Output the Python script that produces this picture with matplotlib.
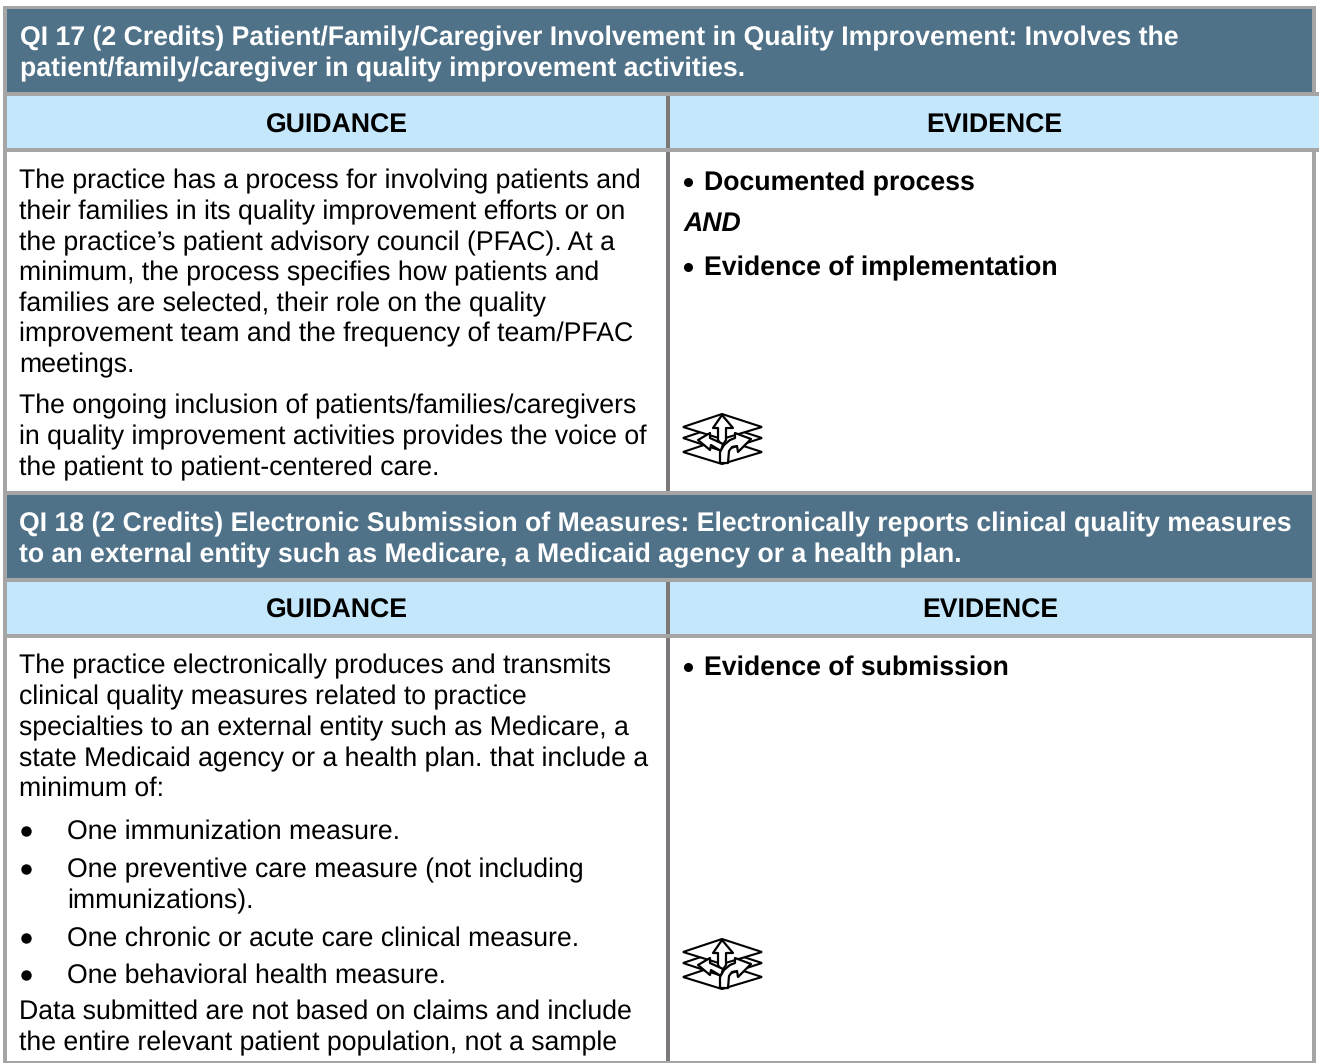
import matplotlib
matplotlib.use("Agg")
import matplotlib.pyplot as plt
from matplotlib.patches import Polygon, Rectangle

plt.rcParams['font.family'] = ['Liberation Sans', 'DejaVu Sans']
plt.rcParams['text.hinting'] = 'none'

# Table text
header_17 = ["QI 17 (2 Credits) Patient/Family/Caregiver Involvement in Quality Improvement: Involves the",
             "patient/family/caregiver in quality improvement activities."]
header_18 = ["QI 18 (2 Credits) Electronic Submission of Measures: Electronically reports clinical quality measures",
             "to an external entity such as Medicare, a Medicaid agency or a health plan."]
guidance_17 = ["The practice has a process for involving patients and",
               "their families in its quality improvement efforts or on",
               "the practice\u2019s patient advisory council (PFAC). At a",
               "minimum, the process specifies how patients and",
               "families are selected, their role on the quality",
               "improvement team and the frequency of team/PFAC",
               "meetings.",
               "The ongoing inclusion of patients/families/caregivers",
               "in quality improvement activities provides the voice of",
               "the patient to patient-centered care."]
guidance_17_y = [188, 219, 250, 280, 311, 341, 372, 413, 444, 475]
guidance_18 = ["The practice electronically produces and transmits",
               "clinical quality measures related to practice",
               "specialties to an external entity such as Medicare, a",
               "state Medicaid agency or a health plan. that include a",
               "minimum of:",
               "Data submitted are not based on claims and include",
               "the entire relevant patient population, not a sample"]
guidance_18_y = [673, 704, 735, 766, 796, 1019, 1050]
bullets_18 = ["One immunization measure.",
              "One preventive care measure (not including",
              "immunizations).",
              "One chronic or acute care clinical measure.",
              "One behavioral health measure."]
bullets_18_y = [839, 877, 908, 946, 983]
bullets_18_dot = [True, True, False, True, True]
evidence_17 = ["Documented process", "Evidence of implementation"]
evidence_17_y = [190, 275]
evidence_18 = ["Evidence of submission"]
evidence_18_y = [675]

DARK = "#4f7289"
LIGHT = "#c4e7fb"
GRAY = "#a5a5a5"
DIV = "#7b7877"
FS = 19.2


def rect(ax, x0, y0, x1, y1, color, z=1):
    ax.add_patch(Rectangle((x0, y0), x1 - x0, y1 - y0, facecolor=color, edgecolor="none", zorder=z))


def icon(ax, dy):
    # three stacked sheets with arrows going up through them
    for sheet in ([(683, 452), (722, 439), (762, 452), (722, 464)],
                  [(683, 438), (722, 425), (762, 438), (722, 451)],
                  [(683, 427), (722, 414), (762, 427), (722, 439)]):
        ax.add_patch(Polygon([(x, y + dy) for x, y in sheet], closed=True, facecolor="white",
                             edgecolor="black", lw=1.5, zorder=3))
    arrows = ([(718, 440), (718, 428), (713, 428), (722, 415), (733, 428), (726, 428), (726, 440), (722, 446)],
              [(721, 451), (711, 445), (710, 450), (698, 440), (710, 433), (710, 438), (723, 444)],
              [(720, 463), (720, 452), (724, 445), (730, 440), (735, 438), (735, 433), (751, 439), (738, 452),
               (737, 446), (732, 447), (729, 451), (728, 463)])
    for arrow in arrows:
        ax.add_patch(Polygon([(x, y + dy) for x, y in arrow], closed=True, facecolor="white",
                             edgecolor="black", lw=1.6, zorder=4, joinstyle="round"))


fig = plt.figure(figsize=(13.19, 10.63), dpi=100)
ax = fig.add_axes([0, 0, 1, 1])
ax.set_xlim(0, 1319)
ax.set_ylim(1063, 0)
ax.axis("off")

# Band fills and rules
rect(ax, 3, 6, 1316, 9, GRAY)
rect(ax, 7, 9, 1312, 92, DARK)
rect(ax, 3, 92, 1319, 96, GRAY)
rect(ax, 7, 96, 1319, 148, LIGHT)
rect(ax, 3, 148, 1319, 152, GRAY)
rect(ax, 3, 491, 1316, 495, GRAY)
rect(ax, 7, 495, 1312, 578, DARK)
rect(ax, 3, 578, 1316, 582, GRAY)
rect(ax, 7, 582, 1312, 634, LIGHT)
rect(ax, 3, 634, 1316, 638, GRAY)
rect(ax, 3, 1061, 1316, 1063, GRAY)

# Outer verticals
rect(ax, 3, 6, 7, 1063, GRAY, 0)
rect(ax, 1312, 6, 1316, 92, GRAY, 0)
rect(ax, 1312, 152, 1316, 1063, GRAY, 0)

# Column divider
for y0, y1 in [(96, 148), (152, 491), (582, 634), (638, 1061)]:
    rect(ax, 666, y0, 670, y1, DIV, 2)


def put(x, y, s, **kw):
    ax.text(x, y, s, fontsize=FS, va="baseline", zorder=5, **kw)


for y, s in zip([45, 76], header_17):
    put(20, y, s, color="white", weight="bold")
for y, s in zip([531, 562], header_18):
    put(19, y, s, color="white", weight="bold")

put(336.5, 133, "GUIDANCE", ha="center", weight="bold")
put(994.5, 133, "EVIDENCE", ha="center", weight="bold")
put(336.5, 618, "GUIDANCE", ha="center", weight="bold")
put(990.5, 618, "EVIDENCE", ha="center", weight="bold")

for y, s in zip(guidance_17_y, guidance_17):
    put(19, y, s)
for y, s in zip(guidance_18_y, guidance_18):
    put(19, y, s)
for y, s, dot in zip(bullets_18_y, bullets_18, bullets_18_dot):
    if dot:
        ax.plot([25.5], [y - 8], "o", color="black", ms=7.5, mew=0, zorder=5)
    put(67, y, s)

for y, s in zip(evidence_17_y, evidence_17):
    ax.plot([688], [y - 8], "o", color="black", ms=6.5, mew=0, zorder=5)
    put(704, y, s, weight="bold")
put(683.5, 231, "AND", weight="bold", style="italic")
for y, s in zip(evidence_18_y, evidence_18):
    ax.plot([688], [y - 8], "o", color="black", ms=6.5, mew=0, zorder=5)
    put(704, y, s, weight="bold")

icon(ax, 0)
icon(ax, 525)

fig.savefig("out.png", dpi=100)
